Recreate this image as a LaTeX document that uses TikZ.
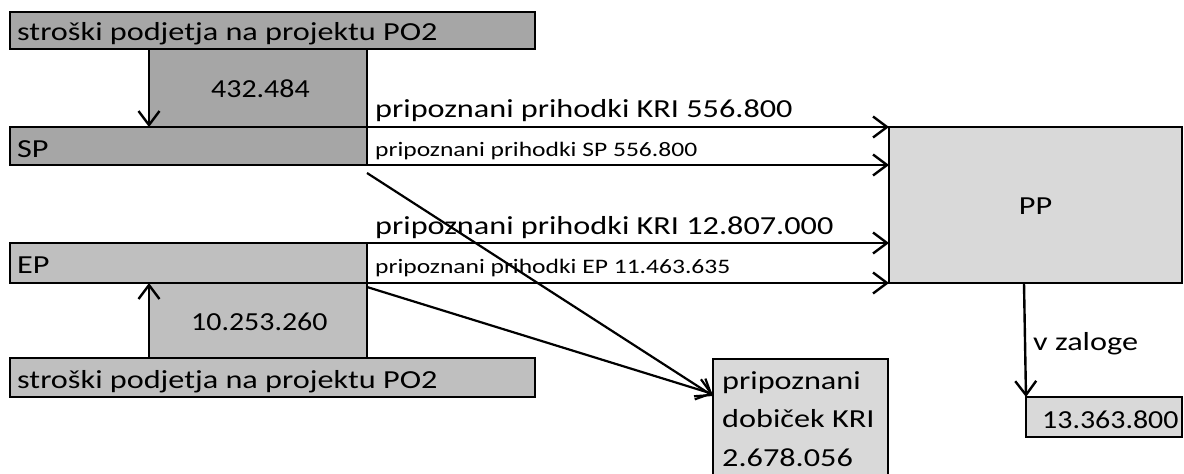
\documentclass[tikz,border=0pt]{standalone}
\usepackage{fontspec}
\setmainfont[FakeStretch=1.24]{Carlito}
\newfontfamily\numfont[FakeStretch=1.15]{Carlito}
\usetikzlibrary{arrows.meta}
\definecolor{darkfill}{HTML}{A6A6A6}
\definecolor{midfill}{HTML}{BFBFBF}
\definecolor{lightfill}{HTML}{D9D9D9}

\begin{document}
\begin{tikzpicture}[x=1pt, y=-1pt,
    box/.style={draw, line width=2.6pt, anchor=north west, inner sep=0pt, outer sep=0pt},
    flow/.style={-{Straight Barb[length=14pt,width=21pt]}, line width=2.4pt},
    bigtext/.style={anchor=base west, inner sep=0pt, font=\fontsize{26}{38.5}\selectfont},
    numtext/.style={bigtext, font=\fontsize{26}{38.5}\numfont},
    smalltext/.style={anchor=base west, inner sep=0pt, font=\fontsize{20.6}{24}\selectfont}]
    \useasboundingbox (0,0) rectangle (1184,474);
    % Draw SP boxes
    \node[box, fill=darkfill, minimum width=525pt, minimum height=37pt] (costSP) at (10,12) {};
    \node[box, fill=darkfill, minimum width=218pt, minimum height=78pt] (amtSP) at (149,49) {};
    \node[box, fill=darkfill, minimum width=357pt, minimum height=38pt] (SP) at (10,127) {};
    % Draw EP boxes
    \node[box, fill=midfill, minimum width=357pt, minimum height=40pt] (EP) at (10,243) {};
    \node[box, fill=midfill, minimum width=218pt, minimum height=75pt] (amtEP) at (149,283) {};
    \node[box, fill=midfill, minimum width=525pt, minimum height=39pt] (costEP) at (10,358) {};
    % Draw result boxes
    \node[box, fill=lightfill, minimum width=293pt, minimum height=156pt] (PP) at (889,127) {};
    \node[box, fill=lightfill, minimum width=175pt, minimum height=150pt] (dob) at (713,359) {};
    \node[box, fill=lightfill, minimum width=156pt, minimum height=40pt] (stock) at (1026,397) {};

    % Texts in the boxes
    \node[bigtext] (costSPtxt) at (17,40) {stroški podjetja na projektu PO2};
    \node[numtext] (amtSPtxt) at (211,97) {432.484};
    \node[bigtext] (SPtxt) at (17,157) {SP};
    \node[bigtext] (EPtxt) at (17,273) {EP};
    \node[numtext] (amtEPtxt) at (191,330) {10.253.260};
    \node[bigtext] (costEPtxt) at (17,388) {stroški podjetja na projektu PO2};
    \node[bigtext, anchor=base] (PPtxt) at ([yshift=-9pt]PP.center) {PP};
    \node[bigtext, align=left] (dobtxt) at (722,466) {pripoznani\\dobiček KRI\\2.678.056};
    \node[numtext] (stocktxt) at (1042,428) {13.363.800};

    % Draw costs into SP and EP
    \draw[flow] (amtSP.north west) -- (amtSP.south west);
    \draw[flow] (amtEP.south west) -- (amtEP.north west);

    % Draw revenues into PP
    \draw[flow] (SP.north east) -- (PP.north west);
    \draw[flow] (SP.south east) -- (SP.south east -| PP.west);
    \draw[flow] (EP.north east) -- (EP.north east -| PP.west);
    \draw[flow] (EP.south east) -- (PP.south west);
    \node[bigtext] (kriSP) at (375,117) {pripoznani prihodki KRI 556.800};
    \node[smalltext] (revSP) at (375,156) {pripoznani prihodki SP 556.800};
    \node[bigtext] (kriEP) at (375,234) {pripoznani prihodki KRI 12.807.000};
    \node[smalltext] (revEP) at (375,273) {pripoznani prihodki EP 11.463.635};

    % Draw profit
    \coordinate (dobin) at ([yshift=-37pt]dob.north west);
    \draw[flow, line width=2.2pt] ([yshift=-8pt]SP.south east) -- (dobin);
    \draw[flow, line width=2.2pt] ([yshift=-4pt]EP.south east) -- ([yshift=2pt]dobin);

    % Draw stock
    \draw[flow] ([xshift=-2pt]stock.north west |- PP.south) -- (stock.north west);
    \node[bigtext] (stocklbl) at (1033,350) {v zaloge};
\end{tikzpicture}
\end{document}
